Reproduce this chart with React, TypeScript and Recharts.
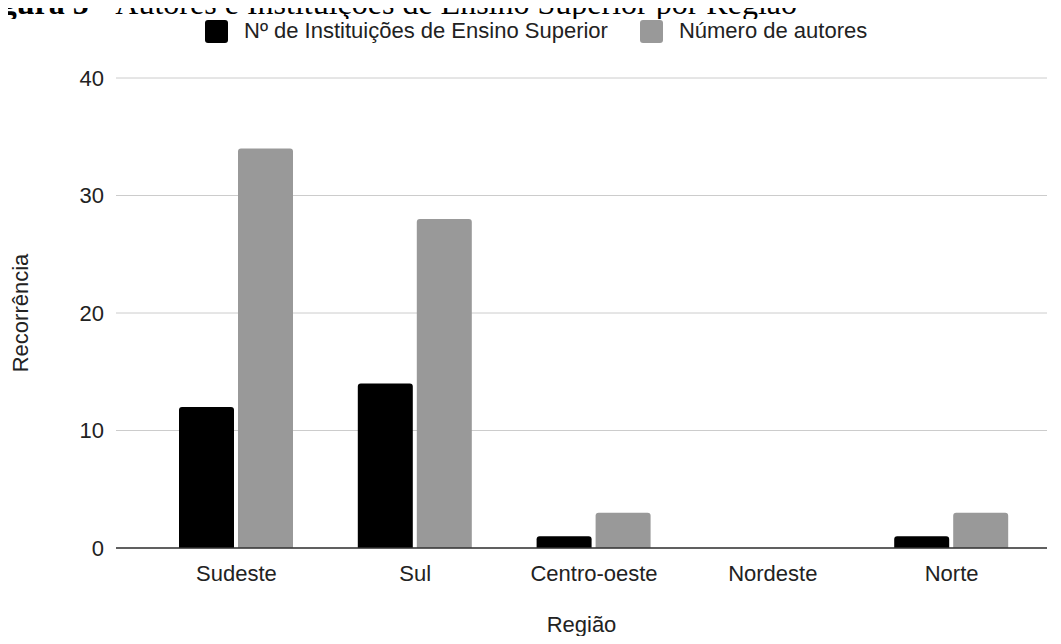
import React from "react";
import {
  BarChart,
  Bar,
  XAxis,
  YAxis,
  CartesianGrid,
  Legend,
} from "recharts";

const regioes = ["Sudeste", "Sul", "Centro-oeste", "Nordeste", "Norte"];
const instituicoes = [12, 14, 1, 0, 1];
const autores = [34, 28, 3, 0, 3];
const yTicks = [0, 10, 20, 30, 40];

const seriesNames = ["Nº de Instituições de Ensino Superior", "Número de autores"];
const seriesColors = ["#000000", "#999999"];

const chartData = regioes.map((regiao, i) => ({
  regiao,
  instituicoes: instituicoes[i],
  autores: autores[i],
}));

const FONT = "'Liberation Sans', Arial, sans-serif";

const LegendContent = () => (
  <div style={{ display: "flex", alignItems: "center", fontFamily: FONT, fontSize: 22, color: "#222" }}>
    {seriesNames.map((name, i) => (
      <div key={name} style={{ display: "flex", alignItems: "center", marginRight: i === 0 ? 32 : 0 }}>
        <span
          style={{
            display: "inline-block",
            width: 23,
            height: 23,
            borderRadius: 3,
            background: seriesColors[i],
            marginRight: 16,
          }}
        />
        <span>{name}</span>
      </div>
    ))}
  </div>
);

const App: React.FC = () => {
  return (
    <div style={{ position: "relative", width: 1061, height: 644, margin: -8, overflow: "hidden", background: "#fff" }}>
      <svg width={1061} height={19} style={{ position: "absolute", left: 0, top: 0, overflow: "hidden" }}>
        <text
          x={797}
          y={14}
          textAnchor="end"
          fontFamily="'Liberation Serif', 'Times New Roman', serif"
          fontSize={32}
          fill="#000"
        >
          <tspan fontWeight="bold">Figura 5 - </tspan>
          <tspan>Autores e Instituições de Ensino Superior por Região</tspan>
        </text>
      </svg>
      <BarChart
        width={1061}
        height={644}
        data={chartData}
        margin={{ top: 78, right: 14, left: 0, bottom: 0 }}
        barSize={55}
        barGap={4}
        style={{ fontFamily: FONT }}
      >
        <CartesianGrid vertical={false} stroke="#cccccc" />
        <XAxis
          dataKey="regiao"
          height={96}
          padding={{ left: 31, right: 6 }}
          tickLine={false}
          tickSize={0}
          tickMargin={17}
          axisLine={{ stroke: "#333333", strokeWidth: 1.5 }}
          tick={{ fill: "#222", fontSize: 22, fontFamily: FONT }}
          label={{ value: "Região", position: "insideBottom", offset: 12, fill: "#222", fontSize: 22, fontFamily: FONT }}
        />
        <YAxis
          width={116}
          domain={[0, 40]}
          ticks={yTicks}
          axisLine={false}
          tickLine={false}
          tickSize={0}
          tickMargin={12}
          tick={{ fill: "#222", fontSize: 22, fontFamily: FONT }}
          label={{ value: "Recorrência", angle: -90, position: "center", dx: -38, fill: "#222", fontSize: 22, fontFamily: FONT }}
        />
        <Legend
          verticalAlign="middle"
          align="center"
          wrapperStyle={{ top: 18, left: 205, width: "auto" }}
          content={<LegendContent />}
        />
        <Bar dataKey="instituicoes" name={seriesNames[0]} fill={seriesColors[0]} radius={[3, 3, 0, 0]} isAnimationActive={false} />
        <Bar dataKey="autores" name={seriesNames[1]} fill={seriesColors[1]} radius={[3, 3, 0, 0]} isAnimationActive={false} />
      </BarChart>
    </div>
  );
};

export default App;
